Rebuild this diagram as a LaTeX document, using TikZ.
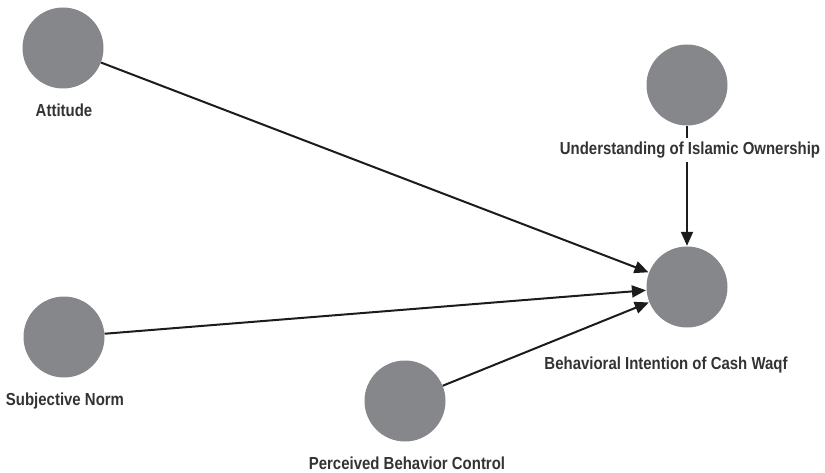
\documentclass[tikz,border=0pt]{standalone}
\usepackage{fontspec}
\setmainfont{Liberation Sans}[FakeStretch=0.86]
\usetikzlibrary{arrows.meta}
\definecolor{circgray}{HTML}{86878A}
\definecolor{linecol}{HTML}{1C1C1C}
\definecolor{textcol}{HTML}{333333}
\tikzset{
  construct/.style={circle, fill=circgray, minimum size=81pt, inner sep=0pt},
  lbl/.style={text=textcol, font=\fontsize{17.4}{20}\selectfont\bfseries, inner sep=2pt},
  path/.style={draw=linecol, line width=2pt, -{Triangle[length=14pt, width=12pt]}, shorten >=0.5pt}
}
\begin{document}
\begin{tikzpicture}[x=1pt, y=-1pt]
\useasboundingbox (0,0) rectangle (825,473);
\node[construct] (att) at (63,48) {};
\node[construct] (uio) at (687,85) {};
\node[construct] (bic) at (687,287) {};
\node[construct] (sn) at (64,337) {};
\node[construct] (pbc) at (405,401) {};
\draw[path] (att) -- (bic);
\draw[path] (sn) -- (bic);
\draw[path] (pbc) -- (bic);
\draw[path] (uio) -- (bic);
\node[lbl] (attl) at (64,110) {Attitude};
\node[lbl, fill=white, inner ysep=4pt] (uiol) at (690,150) {Understanding of Islamic Ownership};
\node[lbl] (bicl) at (666,365) {Behavioral Intention of Cash Waqf};
\node[lbl] (snl) at (65,401) {Subjective Norm};
\node[lbl] (pbcl) at (407,463) {Perceived Behavior Control};
\end{tikzpicture}
\end{document}
